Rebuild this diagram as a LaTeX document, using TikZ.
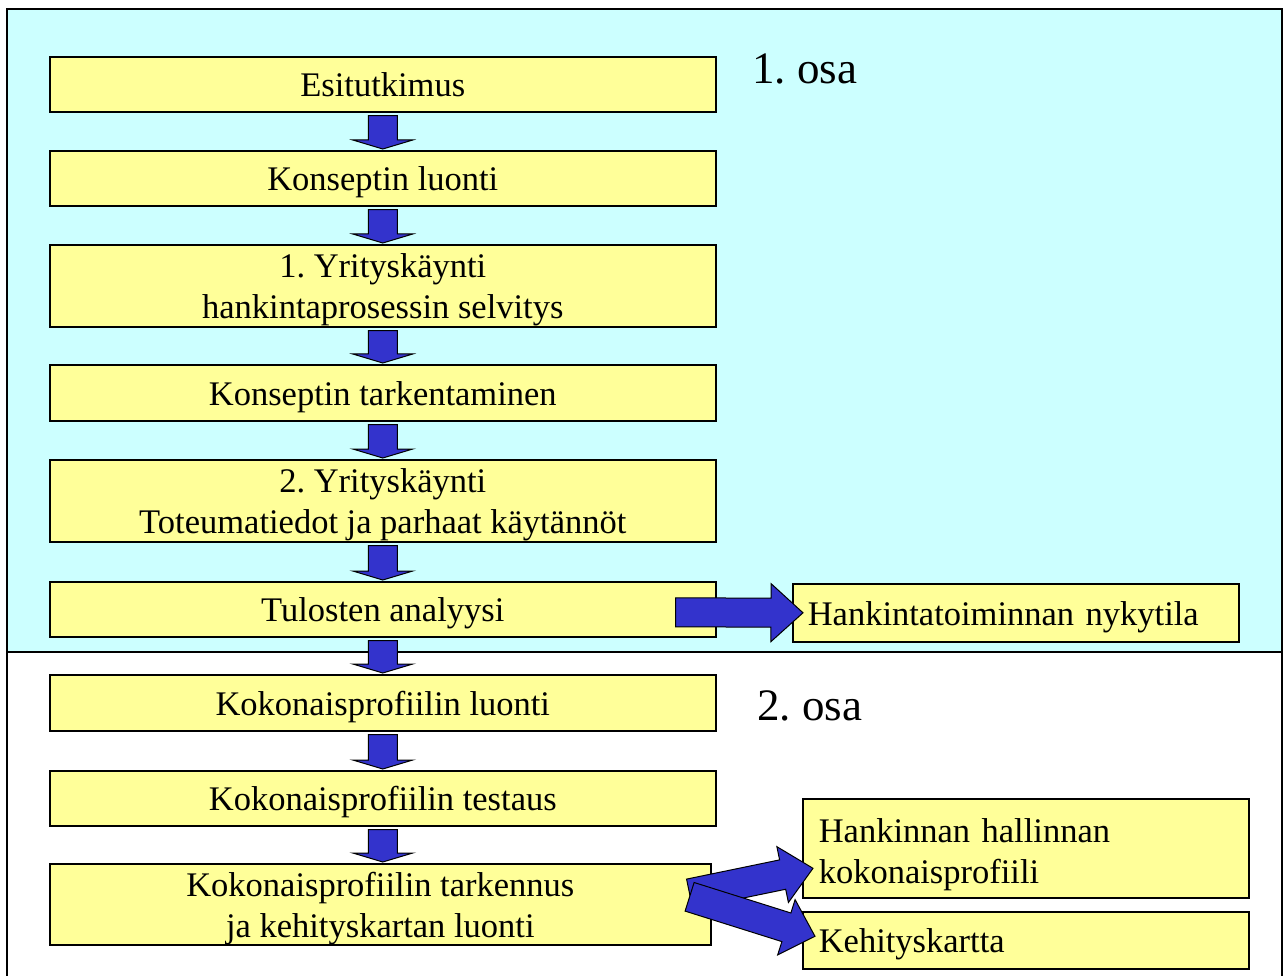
\documentclass[tikz,border=0pt]{standalone}
\usepackage{fontspec}
\setmainfont{Liberation Serif}
\frenchspacing
\usetikzlibrary{calc}
\definecolor{cyanbg}{HTML}{CCFFFF}
\definecolor{boxyellow}{HTML}{FFFF99}
\definecolor{arrowblue}{HTML}{3333CC}
\tikzset{
  stepbox/.style={draw=black, fill=boxyellow, line width=1.6pt, inner sep=0pt,
    anchor=north west, align=center, font=\fontsize{34.5}{41}\selectfont,
    text height=25pt, text depth=0pt},
  twoline/.style={text height=66pt},
  sidebox/.style={stepbox, align=left, inner xsep=15pt, text width=416pt, minimum width=446pt},
  sidetwo/.style={text height=25pt, text depth=37pt},
  blockarr/.style={draw=black, fill=arrowblue, line width=1pt, line join=miter},
  partlabel/.style={anchor=base west, inner sep=0pt, font=\fontsize{45}{54}\selectfont},
  framebox/.style={draw=black, line width=1.6pt}
}
% block arrow: #1 tail, #2 tip, #3 half shaft, #4 half head, #5 head length
\newcommand\blockarrow[5]{%
  \coordinate (ba-h) at ($(#2)!#5!(#1)$);
  \draw[blockarr] ($(#1)!#3!90:(#2)$) -- ($(ba-h)!#3!-90:(#1)$) --
    ($(ba-h)!#4!-90:(#1)$) -- (#2) -- ($(ba-h)!#4!90:(#1)$) --
    ($(ba-h)!#3!90:(#1)$) -- ($(#1)!#3!-90:(#2)$) -- cycle;}
\newcommand\downarr[2]{%
  \coordinate (da-t) at ($(#1.south)+(0,3)$);
  \coordinate (da-h) at ($(#1.south |- #2.north)+(0,-1)$);
  \blockarrow{da-t}{da-h}{14.5pt}{30pt}{9pt}}
\begin{document}
\begin{tikzpicture}[x=1pt,y=-1pt]
\useasboundingbox (0,0) rectangle (1283,976);
% frames
\path[framebox, fill=white] (7,652) rectangle (1282,990);
\path[framebox, fill=cyanbg] (7,9) rectangle (1282,652);
% main steps
\node[stepbox, minimum width=666pt, minimum height=55pt] (esi) at (49,56) {Esitutkimus};
\node[stepbox, minimum width=666pt, minimum height=55pt] (kon) at (49,150) {Konseptin luonti};
\node[stepbox, twoline, minimum width=666pt, minimum height=82pt] (yr1) at (49,244) {1. Yrityskäynti\\hankintaprosessin selvitys};
\node[stepbox, minimum width=666pt, minimum height=56pt] (tar) at (49,364) {Konseptin tarkentaminen};
\node[stepbox, twoline, minimum width=666pt, minimum height=82pt] (yr2) at (49,459) {2. Yrityskäynti\\Toteumatiedot ja parhaat käytännöt};
\node[stepbox, minimum width=666pt, minimum height=55pt] (tul) at (49,581) {Tulosten analyysi};
\node[stepbox, minimum width=666pt, minimum height=56pt] (kpl) at (49,674) {Kokonaisprofiilin luonti};
\node[stepbox, minimum width=666pt, minimum height=55pt] (kpt) at (49,770) {Kokonaisprofiilin testaus};
\node[stepbox, twoline, minimum width=661pt, minimum height=81pt] (kpr) at (49,863) {Kokonaisprofiilin tarkennus\\ja kehityskartan luonti};
% side results
\node[sidebox, inner xsep=14pt, text width=416pt, minimum height=58pt] (nyk) at (792,583) {Hankintatoiminnan nykytila};
\node[sidebox, sidetwo, inner xsep=16pt, text width=414pt, minimum height=99pt] (hal) at (802,798) {Hankinnan hallinnan\\kokonaisprofiili};
\node[sidebox, inner xsep=16pt, text width=414pt, minimum height=57pt] (keh) at (802,911) {Kehityskartta};
% part labels
\node[partlabel] (osa1) at (752,84) {1. osa};
\node[partlabel] (osa2) at (757,720) {2. osa};
% down arrows
\downarr{esi}{kon}
\downarr{kon}{yr1}
\downarr{yr1}{tar}
\downarr{tar}{yr2}
\downarr{yr2}{tul}
\downarr{tul}{kpl}
\downarr{kpl}{kpt}
\downarr{kpt}{kpr}
% side arrows
\coordinate (t1) at ($(tul.east)+(-41,3)$);
\coordinate (h1) at ($(nyk.west)+(11,0)$);
\blockarrow{t1}{h1}{14.5pt}{29pt}{32pt}
\coordinate (t2) at ($(kpr.east)+(-22,-10.5)$);
\coordinate (h2) at ($(hal.west)+(11,20)$);
\blockarrow{t2}{h2}{15pt}{28.5pt}{31pt}
\coordinate (t3) at ($(kpr.east)+(-22,-7.5)$);
\coordinate (h3) at ($(keh.west)+(13,-4)$);
\blockarrow{t3}{h3}{15pt}{29pt}{30pt}
\end{tikzpicture}
\end{document}
